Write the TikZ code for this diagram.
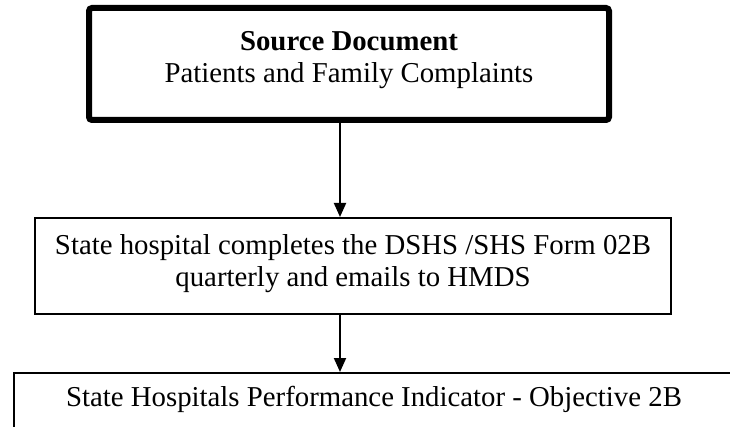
\documentclass[tikz,border=0pt]{standalone}
\usepackage{fontspec}
\setmainfont{Liberation Serif}
\usetikzlibrary{arrows.meta,positioning}
\newcommand\boxfont{\fontsize{28.8}{32}\selectfont}
\tikzset{
  srcbox/.style={draw=black,line width=6pt,rounded corners=3pt,align=center,
    minimum width=520pt,minimum height=112pt,inner sep=0pt,text depth=15pt,
    font=\boxfont},
  stepbox/.style={draw=black,line width=2pt,align=center,
    minimum width=636pt,minimum height=96pt,inner sep=0pt,text depth=10pt,
    font=\boxfont},
  outbox/.style={draw=black,line width=2pt,anchor=north,align=center,
    minimum width=720pt,inner sep=0pt,text height=33pt,text depth=87pt,
    font=\boxfont},
  arrow/.style={-{Triangle[length=14pt,width=12pt]},line width=2pt,draw=black}
}

\begin{document}
\begin{tikzpicture}[x=1pt,y=-1pt]
  \path[use as bounding box,clip] (0,0) rectangle (730,427);
  \node[srcbox] (source) at (349,64) {\textbf{Source Document}\\Patients and Family Complaints};
  \node[stepbox] (form) at (353,266) {State hospital completes the DSHS /SHS Form 02B\\quarterly and emails to HMDS};
  \node[outbox] (indicator) at (374,372) {State Hospitals Performance Indicator - Objective 2B};
  \coordinate (spine) at (340,0);
  \draw[arrow] (source.south -| spine) -- (form.north -| spine);
  \draw[arrow] (form.south -| spine) -- (indicator.north -| spine);
\end{tikzpicture}
\end{document}
